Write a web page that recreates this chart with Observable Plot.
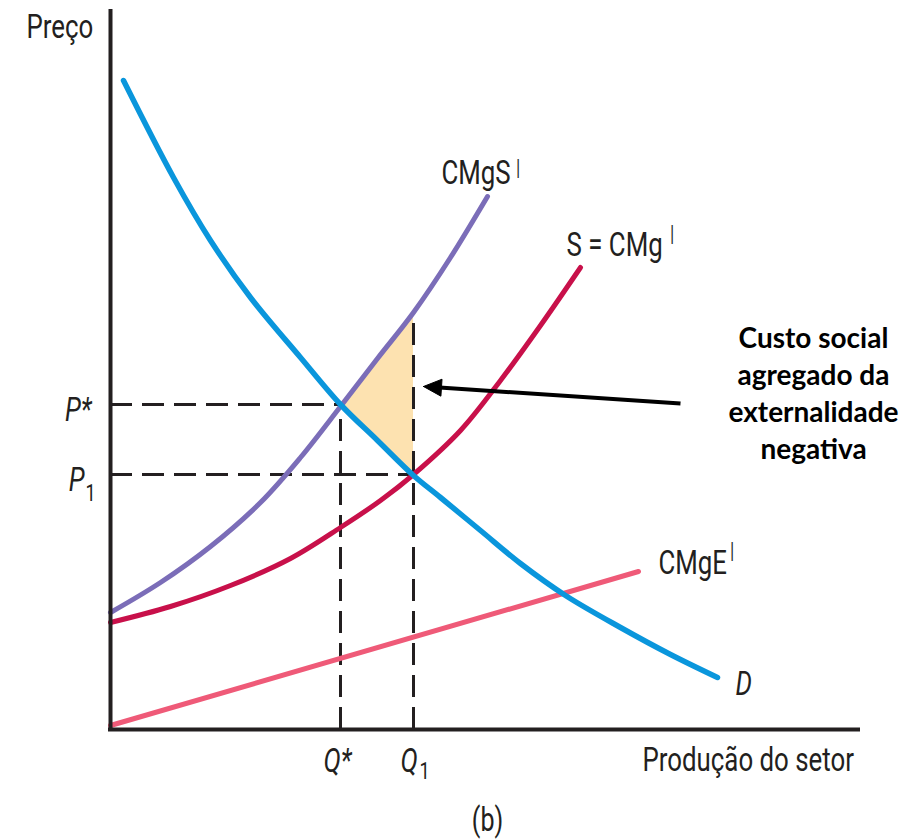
<!DOCTYPE html>
<html>
<head>
<meta charset="utf-8">
<script src="https://cdn.jsdelivr.net/npm/d3@7"></script>
<script src="https://cdn.jsdelivr.net/npm/@observablehq/plot@0.6"></script>
<style>
  html, body { margin: 0; padding: 0; background: #ffffff; }
  svg { display: block; }
</style>
</head>
<body>
<div id="chart"></div>
<script>
// Quantity (x) and price (y) in chart units
const demandX = [13, 63, 100, 140, 190, 230, 267, 303, 330, 370, 410, 455, 510, 560, 607];
const demandY = [649, 552, 489, 432, 372, 325, 289, 254, 232, 199, 166, 134, 102, 75, 52];

const socialX = [0, 50, 100, 150, 190, 230, 267, 303, 340, 377];
const socialY = [117, 147, 183, 227, 272, 323, 371, 417, 472, 533];

const supplyX = [0, 60, 120, 180, 230, 270, 303, 350, 390, 430, 470];
const supplyY = [107, 123, 144, 171, 202, 229, 255, 299, 349, 404, 462];

const externalX = [0, 528];
const externalY = [4, 158];

// Equilibria
const qStar = 230, pStar = 325;
const q1 = 303, p1 = 255, socialAtQ1 = 417;

// Shaded region (between D and CMgS from Q* to Q1)
const shadeX = [230, 267, 303];
const shadeLow = [324, 289, 254];
const shadeHigh = [324, 371, 417];

// Annotation arrow (from text to region)
const arrowFrom = [570, 326];
const arrowTo = [313, 343];

const annotationText = "Custo social\nagregado da\nexternalidade\nnegativa";

// Text labels
const startLabels = [
  {x: -84, y: 692, text: "Preço"},
  {x: 331, y: 546, text: "CMgS"},
  {x: 456, y: 474, text: "S = CMg"},
  {x: 548, y: 156, text: "CMgE"},
  {x: 532, y: -41, text: "Produção do setor"}
];
const italicStartLabels = [
  {x: 625, y: 35, text: "D"},
  {x: 213, y: -42, text: "Q*"},
  {x: 290, y: -42, text: "Q"}
];
const italicEndLabels = [
  {x: -19, y: 309, text: "P*"},
  {x: -26, y: 239, text: "P"}
];
const middleLabels = [
  {x: 377, y: -101, text: "(b)"}
];
const superscripts = [
  {x: 405, y: 552, text: "I"},
  {x: 559, y: 486, text: "I"},
  {x: 619, y: 169, text: "I"}
];
const subscripts = [
  {x: -25, y: 229, text: "1"},
  {x: 309, y: -49, text: "1"}
];

const zip = (xs, ys) => xs.map((x, i) => ({x, y: ys[i]}));
const demand = zip(demandX, demandY);
const social = zip(socialX, socialY);
const supply = zip(supplyX, supplyY);
const external = zip(externalX, externalY);
const shade = shadeX.map((x, i) => ({x, y1: shadeLow[i], y2: shadeHigh[i]}));

// arrow head triangle derived from the arrow endpoints
const dx = arrowTo[0] - arrowFrom[0], dy = arrowTo[1] - arrowFrom[1];
const len = Math.hypot(dx, dy), ux = dx / len, uy = dy / len;
const headL = 18, headW = 8.5;
const bx = arrowTo[0] - ux * headL, by = arrowTo[1] - uy * headL;
const head = [
  {x: arrowTo[0], y: arrowTo[1]},
  {x: bx - uy * headW, y: by + ux * headW},
  {x: bx + uy * headW, y: by - ux * headW},
  {x: arrowTo[0], y: arrowTo[1]}
];

const ink = "#231f20";
const font = "Roboto, 'Noto Sans', sans-serif";
const txt = {x: "x", y: "y", text: "text", lineAnchor: "bottom", fill: ink, fontFamily: font};

const chart = Plot.plot({
  width: 923,
  height: 839,
  marginLeft: 110,
  marginRight: 63,
  marginTop: 9,
  marginBottom: 110,
  x: {domain: [0, 750], axis: null},
  y: {domain: [0, 720], axis: null},
  style: {background: "#ffffff", overflow: "visible"},
  marks: [
    Plot.areaY(shade, {x: "x", y1: "y1", y2: "y2", fill: "#fde2b0", curve: "catmull-rom"}),
    Plot.ruleY([pStar], {x1: 0, x2: qStar, stroke: ink, strokeWidth: 3, strokeDasharray: "22,10"}),
    Plot.ruleX([qStar], {y1: 0, y2: pStar, stroke: ink, strokeWidth: 3, strokeDasharray: "22,10"}),
    Plot.ruleY([p1], {x1: 0, x2: q1, stroke: ink, strokeWidth: 3, strokeDasharray: "22,10"}),
    Plot.ruleX([q1], {y1: 0, y2: socialAtQ1, stroke: ink, strokeWidth: 3, strokeDasharray: "22,10"}),
    Plot.line(external, {x: "x", y: "y", stroke: "#ef5a78", strokeWidth: 5}),
    Plot.line(supply, {x: "x", y: "y", stroke: "#c8104a", strokeWidth: 5, curve: "catmull-rom"}),
    Plot.line(social, {x: "x", y: "y", stroke: "#7b6db8", strokeWidth: 5, curve: "catmull-rom"}),
    Plot.line(demand, {x: "x", y: "y", stroke: "#0a96dc", strokeWidth: 5.5, curve: "catmull-rom"}),
    Plot.link([0], {x1: arrowFrom[0], y1: arrowFrom[1], x2: bx + ux * 2, y2: by + uy * 2, stroke: "#000", strokeWidth: 4}),
    Plot.line(head, {x: "x", y: "y", fill: "#000", stroke: "#000", strokeWidth: 1}),
    Plot.ruleX([0], {y1: -2, y2: 720, stroke: ink, strokeWidth: 4}),
    Plot.ruleY([0], {x1: -2, x2: 750, stroke: ink, strokeWidth: 4}),
    Plot.text(startLabels, {...txt, textAnchor: "start", fontSize: 34}),
    Plot.text(italicStartLabels, {...txt, textAnchor: "start", fontSize: 34, fontStyle: "italic"}),
    Plot.text(italicEndLabels, {...txt, textAnchor: "end", fontSize: 34, fontStyle: "italic"}),
    Plot.text(middleLabels, {...txt, textAnchor: "middle", fontSize: 33}),
    Plot.text(superscripts, {...txt, textAnchor: "start", fontSize: 26, fontWeight: 300}),
    Plot.text(subscripts, {...txt, textAnchor: "start", fontSize: 24}),
    Plot.text([annotationText], {x: 703, y: 271, text: d => d, textAnchor: "middle", lineAnchor: "bottom",
      lineHeight: 1.32, fontSize: 28, fontWeight: "bold", fill: "#000", fontFamily: "Lato, 'Open Sans', sans-serif"})
  ]
});

// condensed look for the axis/curve labels (the reference uses a narrow face)
d3.select(chart).selectAll("text").each(function () {
  if (this.closest('[font-weight="bold"]')) return;
  const t = this.getAttribute("transform") || "";
  const x = +this.getAttribute("x") || 0, y = +this.getAttribute("y") || 0;
  this.removeAttribute("x");
  this.removeAttribute("y");
  this.setAttribute("transform", `${t} translate(${x},${y}) scale(0.76,1)`);
});

document.getElementById("chart").appendChild(chart);
</script>
</body>
</html>
